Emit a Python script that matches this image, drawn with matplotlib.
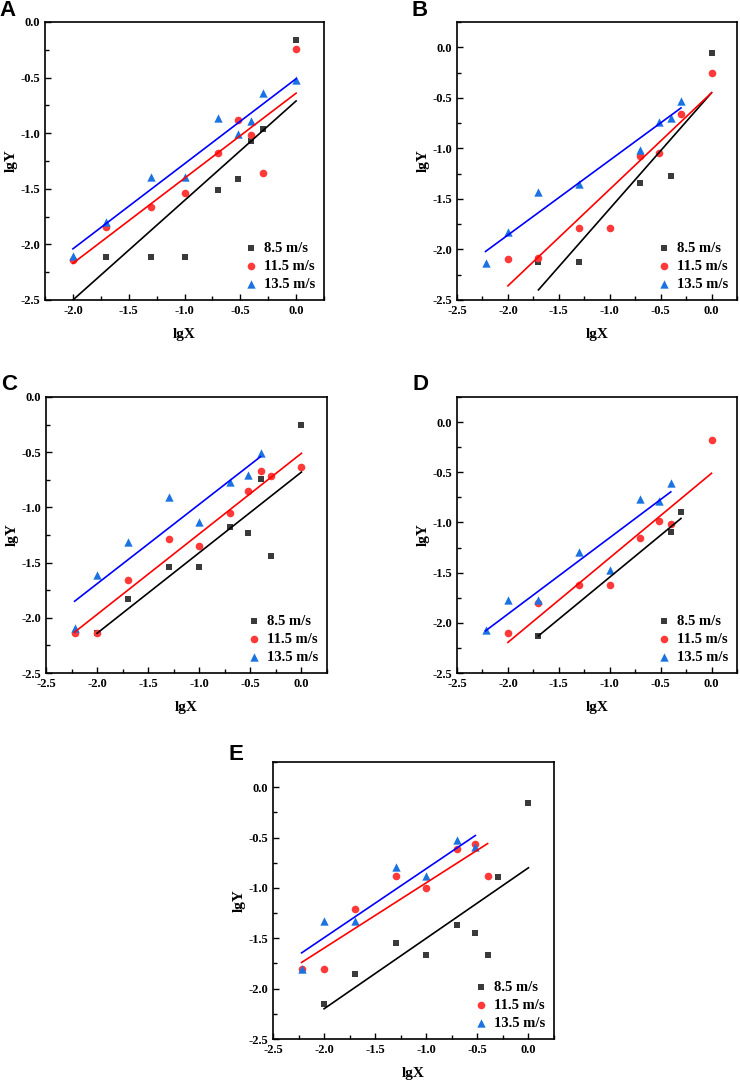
import matplotlib
matplotlib.use('Agg')
from matplotlib import pyplot as plt
from matplotlib.ticker import MultipleLocator, FormatStrFormatter

plt.rcParams['axes.unicode_minus'] = False

labels = ['8.5 m/s', '11.5 m/s', '13.5 m/s']

# panel A
xa8 = [-1.7, -1.3, -1.0, -0.7, -0.52, -0.4, -0.3, 0.0]
ya8 = [-2.11, -2.11, -2.11, -1.51, -1.41, -1.07, -0.96, -0.16]
xa11 = [-2.0, -1.7, -1.3, -1.0, -0.7, -0.52, -0.4, -0.3, 0.0]
ya11 = [-2.14, -1.84, -1.66, -1.54, -1.18, -0.88, -1.02, -1.36, -0.24]
xa13 = [-2.0, -1.7, -1.3, -1.0, -0.7, -0.52, -0.4, -0.3, 0.0]
ya13 = [-2.10, -1.80, -1.39, -1.39, -0.86, -1.01, -0.89, -0.64, -0.52]
fita = [([-2.0, 0.0], [-2.5, -0.71]), ([-2.0, 0.0], [-2.17, -0.64]), ([-2.0, 0.0], [-2.04, -0.51])]

# panel B
xb8 = [-1.7, -1.3, -0.7, -0.4, 0.0]
yb8 = [-2.12, -2.12, -1.34, -1.275, -0.06]
xb11 = [-2.0, -1.7, -1.3, -1.0, -0.7, -0.52, -0.3, 0.0]
yb11 = [-2.09, -2.08, -1.79, -1.79, -1.08, -1.05, -0.66, -0.25]
xb13 = [-2.22, -2.0, -1.7, -1.3, -0.7, -0.52, -0.4, -0.3]
yb13 = [-2.13, -1.83, -1.43, -1.35, -1.02, -0.74, -0.70, -0.53]
fitb = [([-1.7, 0.0], [-2.40, -0.45]), ([-2.0, 0.0], [-2.36, -0.45]), ([-2.22, -0.3], [-2.02, -0.60])]

# panel C
xc8 = [-2.0, -1.7, -1.3, -1.0, -0.7, -0.52, -0.4, -0.3, 0.0]
yc8 = [-2.14, -1.83, -1.54, -1.54, -1.18, -1.23, -0.74, -1.44, -0.25]
xc11 = [-2.22, -2.0, -1.7, -1.3, -1.0, -0.7, -0.52, -0.4, -0.3, 0.0]
yc11 = [-2.14, -2.14, -1.66, -1.29, -1.35, -1.05, -0.85, -0.67, -0.72, -0.63]
xc13 = [-2.22, -2.0, -1.7, -1.3, -1.0, -0.7, -0.52, -0.4]
yc13 = [-2.09, -1.61, -1.31, -0.91, -1.13, -0.77, -0.71, -0.51]
fitc = [([-2.0, 0.0], [-2.14, -0.68]), ([-2.22, 0.0], [-2.13, -0.51]), ([-2.22, -0.4], [-1.85, -0.54])]

# panel D
xd8 = [-1.7, -0.4, -0.3]
yd8 = [-2.13, -1.10, -0.90]
xd11 = [-2.0, -1.7, -1.3, -1.0, -0.7, -0.52, -0.4, 0.0]
yd11 = [-2.10, -1.80, -1.62, -1.62, -1.15, -0.99, -1.02, -0.18]
xd13 = [-2.22, -2.0, -1.7, -1.3, -1.0, -0.7, -0.52, -0.4]
yd13 = [-2.07, -1.77, -1.77, -1.29, -1.47, -0.77, -0.79, -0.61]
fitd = [([-1.7, -0.3], [-2.13, -0.96]), ([-2.0, 0.0], [-2.195, -0.51]), ([-2.22, -0.4], [-2.08, -0.695])]

# panel E
xe8 = [-2.0, -1.7, -1.3, -1.0, -0.7, -0.52, -0.4, -0.3, 0.0]
ye8 = [-2.15, -1.85, -1.545, -1.67, -1.37, -1.45, -1.67, -0.895, -0.16]
xe11 = [-2.22, -2.0, -1.7, -1.3, -1.0, -0.7, -0.52, -0.4]
ye11 = [-1.81, -1.81, -1.21, -0.885, -1.0, -0.61, -0.56, -0.885]
xe13 = [-2.22, -2.0, -1.7, -1.3, -1.0, -0.7, -0.52]
ye13 = [-1.81, -1.33, -1.33, -0.79, -0.88, -0.52, -0.59]
fite = [([-2.0, 0.0], [-2.20, -0.80]), ([-2.22, -0.4], [-1.74, -0.56]), ([-2.22, -0.52], [-1.645, -0.48])]

W, H = 740, 1083
serif = 'Liberation Serif'


def panel(fig, rect, letter, pts, fits, xlim, ylim, letter_dy=12):
    l, t, r, b = rect
    ax = fig.add_axes([l / W, 1 - b / H, (r - l) / W, (b - t) / H])
    mk = [('s', '#3a3a3a', 22), ('o', '#ff3838', 30), ('^', '#1a73e0', 36)]
    lc = ['black', 'red', 'blue']
    for (x, y), (m, c, s), lab in zip(pts, mk, labels):
        ax.scatter(x, y, marker=m, color=c, s=s, label=lab, zorder=3, linewidths=0)
    for (fx, fy), c in zip(fits, lc):
        ax.plot(fx, fy, color=c, lw=1.2, zorder=4)
    ax.set_xlim(*xlim)
    ax.set_ylim(*ylim)
    ax.xaxis.set_major_locator(MultipleLocator(0.5))
    ax.xaxis.set_minor_locator(MultipleLocator(0.25))
    ax.yaxis.set_major_locator(MultipleLocator(0.5))
    ax.yaxis.set_minor_locator(MultipleLocator(0.25))
    ax.xaxis.set_major_formatter(FormatStrFormatter('%.1f'))
    ax.yaxis.set_major_formatter(FormatStrFormatter('%.1f'))
    ax.tick_params(which='both', direction='in', top=False, right=False)
    ax.tick_params(which='major', length=4, width=1)
    ax.tick_params(which='minor', length=3, width=1)
    for lb in ax.get_xticklabels() + ax.get_yticklabels():
        lb.set_fontfamily(serif)
        lb.set_fontweight('bold')
        lb.set_fontsize(9)
    for sp in ax.spines.values():
        sp.set_linewidth(1.2)
    ax.set_xlabel('lgX', fontfamily=serif, fontweight='bold', fontsize=11, labelpad=8)
    ax.set_ylabel('lgY', fontfamily=serif, fontweight='bold', fontsize=11, labelpad=2)
    ax.legend(loc='lower right', frameon=False, prop={'family': serif, 'weight': 'bold', 'size': 10.5},
              handletextpad=0.3, labelspacing=0.35, borderaxespad=0.2, handlelength=1.2)
    fig.text((l - 37) / W, 1 - (t - letter_dy) / H, letter, fontfamily='Liberation Sans', fontweight='bold',
             fontsize=16, ha='center', va='center')
    return ax


fig = plt.figure(figsize=(W / 100, H / 100), dpi=100)

panel(fig, (45, 22, 324, 300), 'A', [(xa8, ya8), (xa11, ya11), (xa13, ya13)], fita, (-2.25, 0.25), (-2.5, 0.0))
panel(fig, (457, 22, 737, 300), 'B', [(xb8, yb8), (xb11, yb11), (xb13, yb13)], fitb, (-2.5, 0.25), (-2.5, 0.25))
panel(fig, (46, 397, 327, 673), 'C', [(xc8, yc8), (xc11, yc11), (xc13, yc13)], fitc, (-2.5, 0.25), (-2.5, 0.0))
panel(fig, (457, 397, 737, 673), 'D', [(xd8, yd8), (xd11, yd11), (xd13, yd13)], fitd, (-2.5, 0.25), (-2.5, 0.25))
panel(fig, (273, 762, 554, 1039), 'E', [(xe8, ye8), (xe11, ye11), (xe13, ye13)], fite, (-2.5, 0.25), (-2.5, 0.25),
      letter_dy=7)

fig.savefig('out.png', dpi=100)
